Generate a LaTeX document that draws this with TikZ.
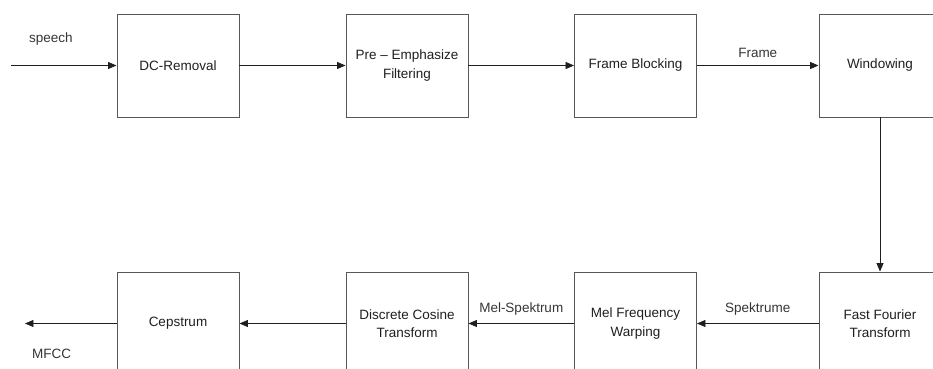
\documentclass[tikz,border=0pt]{standalone}
\usepackage{fontspec}
\setmainfont{Liberation Sans}
\usetikzlibrary{arrows.meta}
\begin{document}
\begin{tikzpicture}[block/.style={draw=mfInk!75, line width=0.7pt, minimum width=3.05cm, minimum height=2.575cm, align=center, inner sep=0pt, font=\fontsize{9.6}{13}\selectfont}, flow/.style={-{Triangle[length=6pt, width=5pt]}, line width=0.5pt, mfInk}, note/.style={font=\fontsize{9.6}{12}\selectfont, text=mfInk!90}, every node/.style={text=mfInk}]
\definecolor{mfInk}{rgb}{0.12,0.12,0.12}
\useasboundingbox (0,0) rectangle (23.325,9.2);
\clip (0,0) rectangle (23.325,9.2);
% upper row
\node[block] (dc) at (4.45,7.5625) {DC-Removal};
\node[block] (pre) at (10.175,7.5625) {Pre -- Emphasize\\ Filtering};
\node[block] (frm) at (15.8875,7.5625) {Frame Blocking};
\node[block] (win) at (22.0,7.5625) {Windowing};
% lower row
\node[block] (fft) at (22.0,1.1125) {Fast Fourier\\ Transform};
\node[block] (mel) at (15.8875,1.1125) {Mel Frequency\\ Warping};
\node[block] (dct) at (10.175,1.1125) {Discrete Cosine\\ Transform};
\node[block] (cep) at (4.45,1.1125) {Cepstrum};
\coordinate (in) at (0.275,7.5625);
\coordinate (out) at (0.625,1.1125);
\draw[flow] (in) -- (dc);
\draw[flow] (dc) -- (pre);
\draw[flow] (pre) -- (frm);
\draw[flow] (frm) -- node[note, above=2pt] {Frame} (win);
\draw[flow] (win) -- (fft);
\draw[flow] (fft) -- node[note, above=2pt] {Spektrume} (mel);
\draw[flow] (mel) -- node[note, above=2pt] {Mel-Spektrum} (dct);
\draw[flow] (dct) -- (cep);
\draw[flow] (cep) -- (out);
\node[note] (speech) at (1.275,8.225) {speech};
\node[note] (mfcc) at (1.29,0.35) {MFCC};
\end{tikzpicture}
\end{document}
